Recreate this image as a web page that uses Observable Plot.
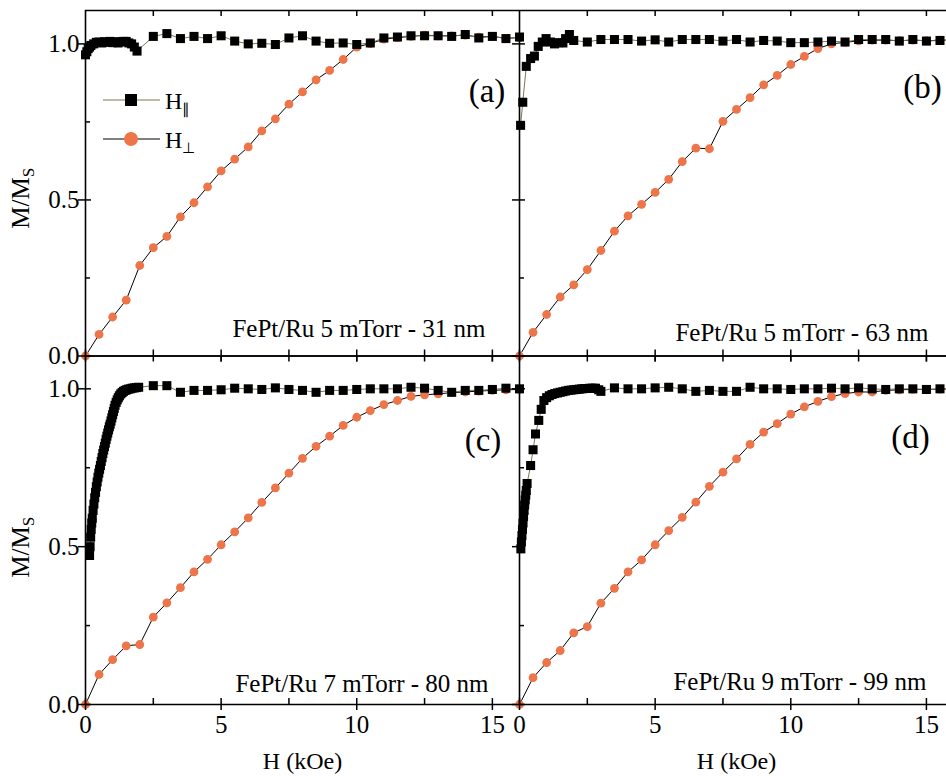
<!DOCTYPE html>
<html><head><meta charset="utf-8">
<script src="https://cdn.jsdelivr.net/npm/d3@7"></script>
<script src="https://cdn.jsdelivr.net/npm/@observablehq/plot@0.6"></script>
<style>
html,body{margin:0;padding:0;background:#fff;overflow:hidden;}
#wrap{position:relative;width:946px;height:776px;}
#wrap svg{position:absolute;left:0;top:0;max-width:none;}
</style></head><body><div id="wrap"></div>
<script>
const ORANGE = "#ee7549", OLIVE = "#80764f";

// ---------- data (H in kOe, M/Ms) ----------
// (a) FePt/Ru 5 mTorr - 31 nm
const aPerpH = [0,0.5,1,1.5,2,2.5,3,3.5,4,4.5,5,5.5,6,6.5,7,7.5,8,8.5,9,9.5,10,10.5,11,11.5,12,12.5,13,13.5,14,14.5,15,15.5,16];
const aPerpM = [0,0.069,0.125,0.179,0.29,0.347,0.383,0.446,0.491,0.542,0.593,0.631,0.67,0.721,0.76,0.807,0.846,0.885,0.915,0.95,0.99,1.001,1.015,1.02,1.024,1.028,1.026,1.026,1.028,1.022,1.024,1.018,1.02];
const aParH = [0,0.05,0.1,0.15,0.2,0.3,0.4,0.5,0.6,0.7,0.8,0.9,1.0,1.1,1.2,1.3,1.4,1.5,1.6,1.7,1.8,1.9,2.5,3,3.5,4,4.5,5,5.5,6,6.5,7,7.5,8,8.5,9,9.5,10,10.5,11,11.5,12,12.5,13,13.5,14,14.5,15,15.5,16];
const aParM = [0.965,0.975,0.985,0.99,0.995,1.0,1.005,1.006,1.003,1.007,1.005,1.008,1.004,1.007,1.003,1.006,1.008,1.008,1.003,1.0,0.99,0.977,1.024,1.033,1.017,1.024,1.017,1.026,1.009,1.0,1.002,0.998,1.019,1.026,1.009,1.002,1.003,0.998,1.003,1.019,1.022,1.026,1.026,1.026,1.024,1.03,1.019,1.024,1.017,1.022];

// (b) FePt/Ru 5 mTorr - 63 nm
const bPerpH = [0,0.5,1,1.5,2,2.5,3,3.5,4,4.5,5,5.5,6,6.5,7,7.5,8,8.5,9,9.5,10,10.5,11,11.5,12,12.5,13,13.5,14,14.5,15,15.5,16];
const bPerpM = [0,0.076,0.133,0.189,0.228,0.277,0.338,0.4,0.449,0.486,0.524,0.566,0.623,0.666,0.664,0.752,0.79,0.828,0.869,0.899,0.934,0.96,0.985,1.0,1.005,1.01,1.012,1.012,1.01,1.012,1.01,1.012,1.012];
const bParH = [0.04,0.12,0.25,0.41,0.55,0.69,0.84,0.98,1.14,1.29,1.45,1.6,1.7,1.84,2.0,2.5,3,3.5,4,4.5,5,5.5,6,6.5,7,7.5,8,8.5,9,9.5,10,10.5,11,11.5,12,12.5,13,13.5,14,14.5,15,15.5,16];
const bParM = [0.739,0.813,0.928,0.953,0.961,0.992,1.006,1.017,1.006,1.0,1.004,1.003,1.017,1.03,1.011,1.006,1.014,1.014,1.014,1.009,1.013,1.006,1.014,1.014,1.014,1.009,1.014,1.006,1.011,1.009,1.004,1.004,1.006,1.009,1.006,1.014,1.014,1.014,1.009,1.014,1.009,1.011,1.011];

// (c) FePt/Ru 7 mTorr - 80 nm
const cPerpH = [0,0.5,1,1.5,2,2.5,3,3.5,4,4.5,5,5.5,6,6.5,7,7.5,8,8.5,9,9.5,10,10.5,11,11.5,12,12.5,13,13.5,14,14.5,15,15.5,16];
const cPerpM = [0,0.095,0.142,0.186,0.19,0.277,0.322,0.37,0.42,0.46,0.506,0.547,0.591,0.64,0.686,0.733,0.78,0.818,0.85,0.884,0.91,0.931,0.95,0.963,0.976,0.981,0.984,0.988,0.99,0.993,0.995,0.997,0.998];
const cParH = [0.15,0.17,0.19,0.21,0.23,0.25,0.28,0.31,0.34,0.37,0.40,0.43,0.46,0.49,0.52,0.55,0.58,0.61,0.64,0.67,0.70,0.73,0.76,0.79,0.82,0.85,0.88,0.91,0.94,0.97,1.00,1.03,1.06,1.09,1.13,1.17,1.21,1.25,1.30,1.35,1.40,1.46,1.52,1.58,1.65,1.72,1.80,1.88,1.96,2.5,3,3.5,4,4.5,5,5.5,6,6.5,7,7.5,8,8.5,9,9.5,10,10.5,11,11.5,12,12.5,13,13.5,14,14.5,15,15.5,16];
const cParM = [0.472,0.50,0.53,0.555,0.575,0.59,0.615,0.635,0.655,0.672,0.69,0.705,0.72,0.733,0.745,0.757,0.77,0.782,0.795,0.806,0.817,0.828,0.84,0.85,0.86,0.87,0.88,0.888,0.898,0.908,0.918,0.928,0.938,0.948,0.957,0.965,0.972,0.978,0.984,0.988,0.992,0.995,0.997,0.999,1.0,1.002,1.003,1.004,1.005,1.01,1.01,0.989,0.995,0.995,0.997,1.002,1.0,0.998,1.003,0.998,0.995,0.989,0.995,0.995,0.998,1.0,1.0,1.0,1.005,1.002,0.995,0.989,0.995,0.995,0.998,1.002,1.0];

// (d) FePt/Ru 9 mTorr - 99 nm
const dPerpH = [0,0.5,1,1.5,2,2.5,3,3.5,4,4.5,5,5.5,6,6.5,7,7.5,8,8.5,9,9.5,10,10.5,11,11.5,12,12.5,13,13.5,14,14.5,15,15.5,16];
const dPerpM = [0,0.085,0.133,0.171,0.227,0.247,0.321,0.368,0.42,0.458,0.506,0.551,0.593,0.641,0.691,0.736,0.778,0.824,0.863,0.89,0.92,0.943,0.96,0.975,0.985,0.99,0.99,0.995,0.997,0.998,0.998,0.999,1.0];
const dParH = [0.05,0.07,0.09,0.11,0.13,0.15,0.17,0.19,0.21,0.23,0.25,0.28,0.41,0.5,0.59,0.71,0.8,0.9,1.0,1.1,1.2,1.3,1.4,1.5,1.6,1.7,1.8,1.9,2.0,2.1,2.2,2.3,2.4,2.5,2.6,2.7,2.8,2.92,3.0,3.5,4,4.5,5,5.5,6,6.5,7,7.5,8,8.5,9,9.5,10,10.5,11,11.5,12,12.5,13,13.5,14,14.5,15,15.5,16];
const dParM = [0.493,0.515,0.535,0.555,0.575,0.595,0.615,0.632,0.648,0.663,0.678,0.70,0.757,0.807,0.857,0.9,0.935,0.963,0.972,0.978,0.982,0.985,0.987,0.989,0.991,0.993,0.995,0.996,0.997,0.998,0.999,1.0,1.001,1.001,1.002,1.002,1.002,0.997,0.992,1.003,1.0,1.0,1.003,1.005,1.0,0.992,0.995,0.992,0.992,1.005,1.0,1.0,0.998,1.0,1.0,1.002,1.0,1.003,1.0,0.998,1.0,1.0,0.998,1.0,1.0];

// ---------- axes ----------
const xMajor = [0, 5, 10, 15];
const xMinor = [2.5, 7.5, 12.5];
const xTop = [2.5, 5, 7.5, 10, 12.5, 15];
const yMajor = [0, 0.5, 1.0];
const yMinor = [0.25, 0.75];

const zip = (H, M) => H.map((h, i) => ({H: h, M: M[i]}));

const panels = [
  {perp: zip(aPerpH, aPerpM), par: zip(aParH, aParM), left: 85, top: 10, W: 434, Hh: 345.5, xmax: 16, ymax: 1.107,
   letter: "(a)", ldx: -32.5, ldy: 81, note: "FePt/Ru 5 mTorr - 31 nm", ndx: -34, ndy: -27.5, showX: false, showY: true, ylabDy: 15},
  {perp: zip(bPerpH, bPerpM), par: zip(bParH, bParM), left: 519, top: 10, W: 427, Hh: 345.5, xmax: 15.74, ymax: 1.107,
   letter: "(b)", ldx: -24, ldy: 77, note: "FePt/Ru 5 mTorr - 63 nm", ndx: -18, ndy: -23.5, showX: false, showY: false},
  {perp: zip(cPerpH, cPerpM), par: zip(cParH, cParM), left: 85, top: 355.5, W: 434, Hh: 348.5, xmax: 16, ymax: 1.104,
   letter: "(c)", ldx: -36.5, ldy: 84.5, note: "FePt/Ru 7 mTorr - 80 nm", ndx: -31, ndy: -21, showX: true, showY: true, ylabDy: 17, xlabDx: 0},
  {perp: zip(dPerpH, dPerpM), par: zip(dParH, dParM), left: 519, top: 355.5, W: 427, Hh: 348.5, xmax: 15.74, ymax: 1.104,
   letter: "(d)", ldx: -36, ldy: 81.5, note: "FePt/Ru 9 mTorr - 99 nm", ndx: -20, ndy: -23, showX: true, showY: false, xlabDx: 3.5}
];

const wrap = document.getElementById("wrap");
const FONT = "'Liberation Serif', 'Times New Roman', serif";

for (const p of panels) {
  const ax = {stroke: "black", strokeWidth: 1.5};
  const marks = [
    // data
    Plot.line(p.perp, {x: "H", y: "M", stroke: "black", strokeWidth: 1}),
    Plot.dot(p.perp, {x: "H", y: "M", r: 4.4, fill: ORANGE}),
    Plot.line(p.par, {x: "H", y: "M", stroke: OLIVE, strokeWidth: 1}),
    Plot.dot(p.par, {x: "H", y: "M", symbol: "square", r: 5.1, fill: "black"}),
    // frame lines (left, bottom, top)
    Plot.ruleX([0], {...ax, strokeWidth: 1.6}),
    Plot.ruleY([0], {...ax, strokeWidth: 1.6}),
    Plot.ruleY([p.ymax], {...ax, strokeWidth: 1.6}),
    // ticks
    Plot.ruleX(xMajor, {...ax, insetTop: p.Hh - 6, insetBottom: -6}),
    Plot.ruleX(xMinor, {...ax, insetTop: p.Hh - 6}),
    Plot.ruleX(xTop, {...ax, insetBottom: p.Hh - 6}),
    Plot.ruleY(yMajor, {...ax, insetLeft: -7, insetRight: p.W - 6}),
    Plot.ruleY(yMinor, {...ax, insetRight: p.W - 5}),
    // annotations
    Plot.text([p.letter], {frameAnchor: "top-right", textAnchor: "middle", lineAnchor: "middle", dx: p.ldx, dy: p.ldy, fontSize: 33}),
    Plot.text([p.note], {frameAnchor: "bottom-right", textAnchor: "end", lineAnchor: "middle", dx: p.ndx, dy: p.ndy, fontSize: 25})
  ];
  if (p.showX) {
    marks.push(Plot.axisX(xMajor, {tickSize: 0, tickPadding: 11, tickFormat: d3.format("d"), fontSize: 25, label: null}));
    marks.push(Plot.text(["H (kOe)"], {frameAnchor: "bottom", textAnchor: "middle", lineAnchor: "middle", dx: p.xlabDx, dy: 57, fontSize: 24}));
  }
  if (p.showY) {
    marks.push(Plot.axisY(yMajor, {tickSize: 0, tickPadding: 6, tickFormat: d3.format(".1f"), fontSize: 25, label: null}));
    marks.push(Plot.text(["M/MS"], {frameAnchor: "left", textAnchor: "middle", lineAnchor: "middle", rotate: -90, dx: -65, dy: p.ylabDy, fontSize: 25}));
  }
  const chart = Plot.plot({
    width: 946, height: 776,
    marginLeft: p.left, marginRight: 946 - p.left - p.W,
    marginTop: p.top, marginBottom: 776 - p.top - p.Hh,
    x: {domain: [0, p.xmax], axis: null},
    y: {domain: [0, p.ymax], axis: null},
    style: {fontFamily: FONT, fontSize: "25px", background: "transparent", color: "black"},
    marks
  });
  // subscript S in M/Ms
  d3.select(chart).selectAll("text").each(function() {
    if (this.textContent === "M/MS") {
      const t = d3.select(this);
      t.text("M/M");
      t.append("tspan").attr("font-size", 17).attr("dy", "0.3em").text("S");
    }
  });
  wrap.appendChild(chart);
}

// legend (panel a)
const leg = d3.select(wrap).append("svg").attr("width", 946).attr("height", 776)
  .style("position", "absolute").style("left", 0).style("top", 0)
  .attr("font-family", FONT);
const items = [
  {y: 100, stroke: OLIVE, sym: "square", label: "H", sub: "\u2225"},
  {y: 139, stroke: "black", sym: "circle", label: "H", sub: "\u22A5"}
];
for (const it of items) {
  leg.append("line").attr("x1", 103).attr("x2", 160).attr("y1", it.y).attr("y2", it.y).attr("stroke", it.stroke).attr("stroke-width", 1);
  if (it.sym === "square") leg.append("rect").attr("x", 125).attr("y", it.y - 6).attr("width", 12).attr("height", 12).attr("fill", "black");
  else leg.append("circle").attr("cx", 131).attr("cy", it.y).attr("r", 7).attr("fill", ORANGE);
  const t = leg.append("text").attr("x", 165).attr("y", it.y + 9).attr("font-size", 24).text(it.label);
  t.append("tspan").attr("font-size", 15).attr("dy", 5).text(it.sub);
}
</script>
</body></html>
